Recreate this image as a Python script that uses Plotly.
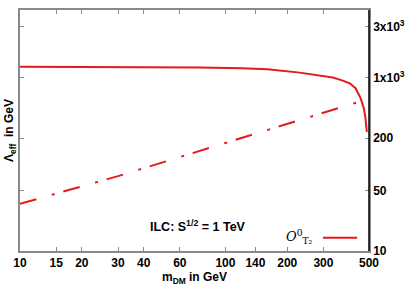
import plotly.graph_objects as go

# Data
m_solid = [10, 20, 40, 75, 120, 160, 230, 290, 333, 370, 403, 430, 443, 455, 463, 472, 480, 488]
lam_solid = [1334, 1330, 1322, 1310, 1280, 1245, 1140, 1050, 1002, 927, 858, 753, 662, 580, 511, 440, 350, 236]

m_dash = [10, 30, 100, 300, 470]
lam_dash = [35, 73, 176, 393, 545]

x_ticks = [10, 15, 20, 30, 40, 60, 100, 140, 200, 300, 500]
y_ticks = [10, 50, 200, 1000, 3850]
y_ticktext = ["10", "50", "200", "1x10<sup>3</sup>", "3x10<sup>3</sup>"]

RED = "#e41a1c"
GRAY = "#8a8a8a"
FONT = "Liberation Sans"

fig = go.Figure()
fig.add_trace(go.Scatter(x=m_solid, y=lam_solid, mode="lines",
                         line=dict(color=RED, width=2), showlegend=False))
fig.add_trace(go.Scatter(x=m_dash, y=lam_dash, mode="lines",
                         line=dict(color=RED, width=2, dash="17px,16px,3px,9px"),
                         showlegend=False))

fig.update_layout(
    width=413, height=289,
    margin=dict(l=20, r=44, t=8, b=34),
    paper_bgcolor="white", plot_bgcolor="white",
    font=dict(family=FONT, size=12, color="black"),
    xaxis=dict(type="log", range=[1, 2.69897], tickvals=x_ticks,
               ticktext=[str(v) for v in x_ticks],
               showgrid=False, zeroline=False, showline=True, linecolor=GRAY, linewidth=1.5,
               mirror="allticks", ticks="inside", ticklen=4, tickcolor=GRAY,
               tickfont=dict(family=FONT, size=12, color="black", weight="bold"),
               title=dict(text="<b>m<sub>DM</sub> in GeV</b>", standoff=2,
                          font=dict(family=FONT, size=12))),
    yaxis=dict(type="log", range=[1, 3.779], side="right", tickvals=y_ticks,
               ticktext=y_ticktext,
               showgrid=False, zeroline=False, showline=True, linecolor=GRAY, linewidth=1.5,
               mirror="allticks", ticks="inside", ticklen=4, tickcolor=GRAY,
               tickfont=dict(family=FONT, size=12, color="black", weight="bold")),
    shapes=[
        dict(type="line", xref="paper", yref="paper", x0=1, x1=1, y0=0, y1=1,
             line=dict(color="black", width=1.5)),
        dict(type="line", xref="paper", yref="paper", x0=0.868, x1=0.966,
             y0=0.055, y1=0.055, line=dict(color=RED, width=2)),
    ],
    annotations=[
        dict(text="<b>Λ<sub>eff</sub>  in GeV</b>", textangle=-90, xref="paper", yref="paper",
             x=-0.03, y=0.5, xanchor="center", yanchor="middle", showarrow=False,
             font=dict(family=FONT, size=12)),
        dict(text="<b>ILC: S<sup>1/2</sup> = 1 TeV</b>", xref="paper", yref="paper",
             x=0.51, y=0.105, xanchor="center", yanchor="middle", showarrow=False,
             font=dict(family=FONT, size=12.5)),
        dict(text="<i>O</i><sup>0</sup><sub>T₂</sub>", xref="paper", yref="paper",
             x=0.845, y=0.06, xanchor="right", yanchor="middle", showarrow=False,
             font=dict(family="DejaVu Serif", size=13)),
    ],
)

fig.write_html("out.html", config={"displayModeBar": False})
with open("out.html", encoding="utf-8") as f:
    html = f.read()
html = html.replace("<body>", '<body style="margin:0;padding:0;overflow:hidden">', 1)
with open("out.html", "w", encoding="utf-8") as f:
    f.write(html)
